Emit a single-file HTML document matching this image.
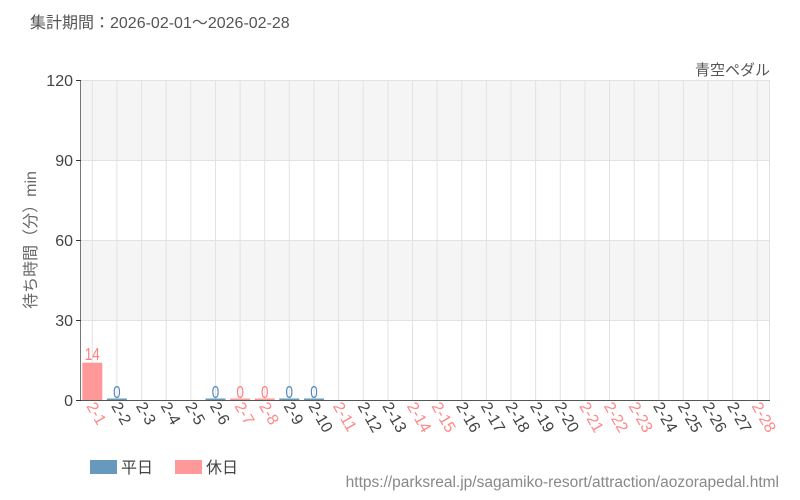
<!DOCTYPE html>
<html><head><meta charset="utf-8"><style>
body{margin:0;background:#fff;}
svg{display:block;font-family:"Liberation Sans","Noto Sans CJK JP",sans-serif;}
</style></head><body>
<svg width="800" height="500" viewBox="0 0 800 500">
<text x="30" y="28" font-size="16" fill="#555">集計期間：2026-02-01～2026-02-28</text>
<text x="770" y="75" font-size="15" fill="#555" text-anchor="end">青空ペダル</text>
<rect x="81" y="80" width="689" height="80" fill="#f5f5f5"/>
<rect x="81" y="240" width="689" height="80" fill="#f5f5f5"/>
<g stroke="#e2e2e2" stroke-width="1">
<line x1="81" y1="80.5" x2="770" y2="80.5"/><line x1="81" y1="160.5" x2="770" y2="160.5"/><line x1="81" y1="240.5" x2="770" y2="240.5"/><line x1="81" y1="320.5" x2="770" y2="320.5"/>
<line x1="92.3" y1="80" x2="92.3" y2="400"/><line x1="116.9" y1="80" x2="116.9" y2="400"/><line x1="141.6" y1="80" x2="141.6" y2="400"/><line x1="166.2" y1="80" x2="166.2" y2="400"/><line x1="190.8" y1="80" x2="190.8" y2="400"/><line x1="215.5" y1="80" x2="215.5" y2="400"/><line x1="240.1" y1="80" x2="240.1" y2="400"/><line x1="264.7" y1="80" x2="264.7" y2="400"/><line x1="289.3" y1="80" x2="289.3" y2="400"/><line x1="314" y1="80" x2="314" y2="400"/><line x1="338.6" y1="80" x2="338.6" y2="400"/><line x1="363.2" y1="80" x2="363.2" y2="400"/><line x1="387.9" y1="80" x2="387.9" y2="400"/><line x1="412.5" y1="80" x2="412.5" y2="400"/><line x1="437.1" y1="80" x2="437.1" y2="400"/><line x1="461.8" y1="80" x2="461.8" y2="400"/><line x1="486.4" y1="80" x2="486.4" y2="400"/><line x1="511" y1="80" x2="511" y2="400"/><line x1="535.6" y1="80" x2="535.6" y2="400"/><line x1="560.3" y1="80" x2="560.3" y2="400"/><line x1="584.9" y1="80" x2="584.9" y2="400"/><line x1="609.5" y1="80" x2="609.5" y2="400"/><line x1="634.2" y1="80" x2="634.2" y2="400"/><line x1="658.8" y1="80" x2="658.8" y2="400"/><line x1="683.4" y1="80" x2="683.4" y2="400"/><line x1="708.1" y1="80" x2="708.1" y2="400"/><line x1="732.7" y1="80" x2="732.7" y2="400"/><line x1="757.3" y1="80" x2="757.3" y2="400"/><line x1="769.5" y1="80" x2="769.5" y2="400"/>
</g>
<rect x="82.3" y="362.7" width="20" height="37.3" fill="#ff9999"/>
<g fill="#6699bb"><rect x="106.9" y="398.5" width="20" height="1.5"/><rect x="205.5" y="398.5" width="20" height="1.5"/><rect x="279.3" y="398.5" width="20" height="1.5"/><rect x="304" y="398.5" width="20" height="1.5"/></g>
<g fill="#ff9999"><rect x="230.1" y="398.5" width="20" height="1.5"/><rect x="254.7" y="398.5" width="20" height="1.5"/></g>
<g font-size="18" text-anchor="middle">
<text transform="translate(92.3,360) scale(0.75,1)" fill="#ff8080">14</text>
<text transform="translate(116.9,398) scale(0.75,1)" fill="#5588bb">0</text>
<text transform="translate(215.5,398) scale(0.75,1)" fill="#5588bb">0</text>
<text transform="translate(289.3,398) scale(0.75,1)" fill="#5588bb">0</text>
<text transform="translate(314,398) scale(0.75,1)" fill="#5588bb">0</text>
<text transform="translate(240.1,398) scale(0.75,1)" fill="#ff8080">0</text>
<text transform="translate(264.7,398) scale(0.75,1)" fill="#ff8080">0</text>
</g>
<line x1="80.5" y1="80" x2="80.5" y2="400" stroke="#777"/>
<line x1="80" y1="400.5" x2="770" y2="400.5" stroke="#555"/>
<g stroke="#333"><line x1="76" y1="80.5" x2="81" y2="80.5"/><line x1="76" y1="160.5" x2="81" y2="160.5"/><line x1="76" y1="240.5" x2="81" y2="240.5"/><line x1="76" y1="320.5" x2="81" y2="320.5"/><line x1="76" y1="400.5" x2="81" y2="400.5"/></g>
<g font-size="16" fill="#444" text-anchor="end">
<text x="73" y="86">120</text><text x="73" y="166">90</text><text x="73" y="246">60</text><text x="73" y="326">30</text><text x="73" y="406">0</text>
</g>
<text transform="translate(36,240) rotate(-90)" font-size="16" fill="#666" text-anchor="middle">待ち時間（分）min</text>
<g font-size="16" fill="#444">
<text transform="translate(86,406) rotate(60)" fill="#ff8888">2-1</text>
<text transform="translate(110.9,406) rotate(60)">2-2</text>
<text transform="translate(135.6,406) rotate(60)">2-3</text>
<text transform="translate(160.2,406) rotate(60)">2-4</text>
<text transform="translate(184.8,406) rotate(60)">2-5</text>
<text transform="translate(209.5,406) rotate(60)">2-6</text>
<text transform="translate(234.1,406) rotate(60)" fill="#ff8888">2-7</text>
<text transform="translate(258.7,406) rotate(60)" fill="#ff8888">2-8</text>
<text transform="translate(283.3,406) rotate(60)">2-9</text>
<text transform="translate(308,406) rotate(60)">2-10</text>
<text transform="translate(332.6,406) rotate(60)" fill="#ff8888">2-11</text>
<text transform="translate(357.2,406) rotate(60)">2-12</text>
<text transform="translate(381.9,406) rotate(60)">2-13</text>
<text transform="translate(406.5,406) rotate(60)" fill="#ff8888">2-14</text>
<text transform="translate(431.1,406) rotate(60)" fill="#ff8888">2-15</text>
<text transform="translate(455.8,406) rotate(60)">2-16</text>
<text transform="translate(480.4,406) rotate(60)">2-17</text>
<text transform="translate(505,406) rotate(60)">2-18</text>
<text transform="translate(529.6,406) rotate(60)">2-19</text>
<text transform="translate(554.3,406) rotate(60)">2-20</text>
<text transform="translate(578.9,406) rotate(60)" fill="#ff8888">2-21</text>
<text transform="translate(603.5,406) rotate(60)" fill="#ff8888">2-22</text>
<text transform="translate(628.2,406) rotate(60)" fill="#ff8888">2-23</text>
<text transform="translate(652.8,406) rotate(60)">2-24</text>
<text transform="translate(677.4,406) rotate(60)">2-25</text>
<text transform="translate(702.1,406) rotate(60)">2-26</text>
<text transform="translate(726.7,406) rotate(60)">2-27</text>
<text transform="translate(751.3,406) rotate(60)" fill="#ff8888">2-28</text>
</g>
<rect x="90" y="460" width="27" height="14" fill="#6699bb"/>
<text x="121" y="473" font-size="16" fill="#444">平日</text>
<rect x="175" y="460" width="27" height="14" fill="#ff9999"/>
<text x="206" y="473" font-size="16" fill="#444">休日</text>
<text x="779" y="487" font-size="15.5" fill="#888" text-anchor="end">https://parksreal.jp/sagamiko-resort/attraction/aozorapedal.html</text>
</svg>
</body></html>
